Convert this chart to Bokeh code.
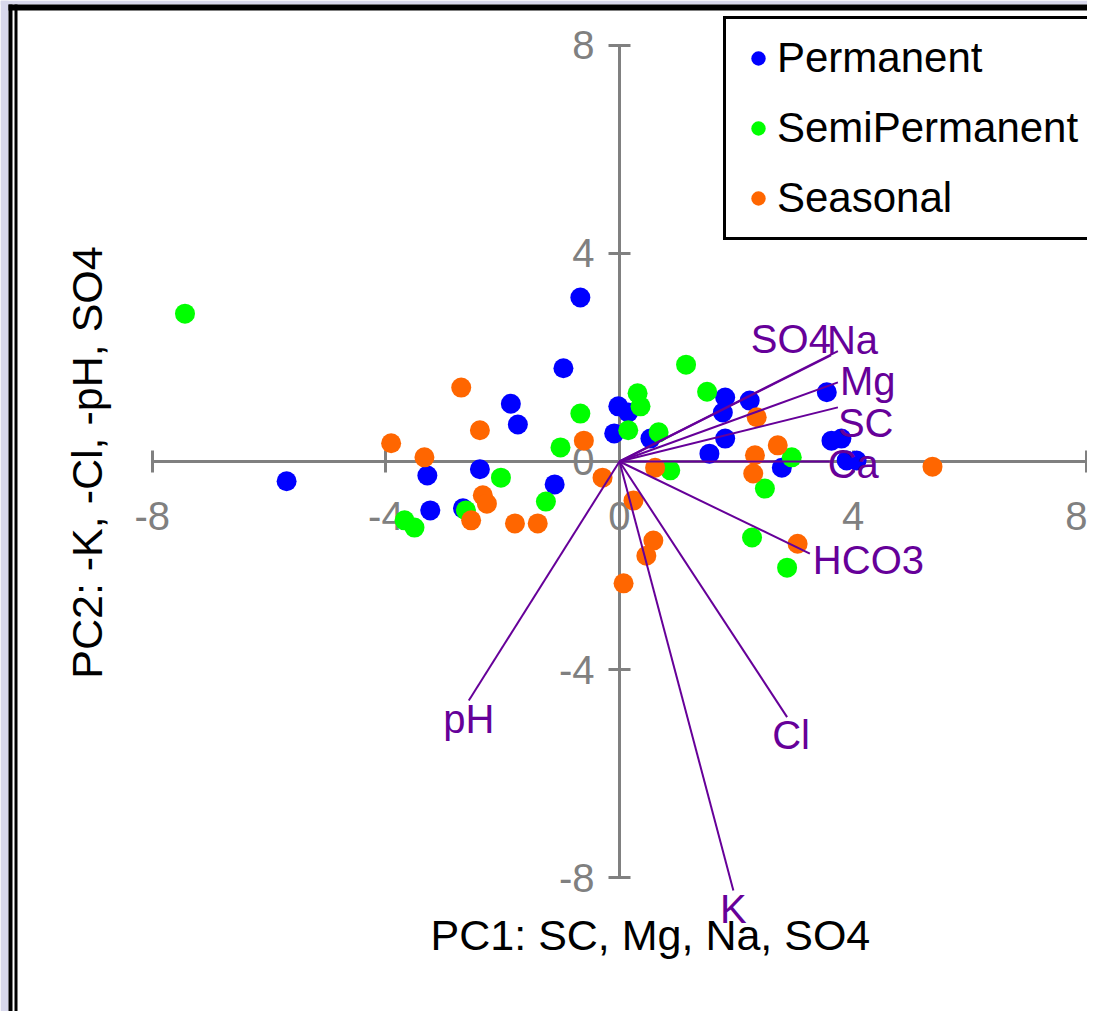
import math
from bokeh.plotting import figure
from bokeh.models import (ColumnDataSource, Range1d, LinearAxis, FixedTicker,
                          Label, BoxAnnotation, PrintfTickFormatter)
from bokeh.core.properties import value, field
from bokeh.embed import file_html
from bokeh.resources import INLINE

# ---- data (PCA scores) ----
perm_pc1 = [-5.70, -3.29, -3.24, -2.68, -2.39, -1.86, -1.74, -1.11, -0.96, -0.67,
            -0.02, 0.15, -0.09, 0.53, 1.81, 1.77, 2.23, 1.81, 1.54, 3.55,
            3.63, 3.80, 3.89, 4.06, 2.78]
perm_pc2 = [-0.38, -0.27, -0.94, -0.90, -0.15, 1.11, 0.71, -0.44, 1.79, 3.15,
            1.06, 0.94, 0.54, 0.44, 1.23, 0.94, 1.17, 0.44, 0.15, 1.33,
            0.40, 0.44, 0.02, 0.02, -0.12]

semi_pc1 = [-7.44, -3.68, -3.51, -2.63, -2.03, -1.26, -1.01, -0.67, 0.31, 0.36,
            0.15, 0.67, 0.87, 1.14, 1.50, 2.27, 2.95, 2.49, 2.87]
semi_pc2 = [2.84, -1.13, -1.27, -0.94, -0.31, -0.77, 0.27, 0.92, 1.31, 1.06,
            0.60, 0.56, -0.17, 1.86, 1.34, -1.46, 0.08, -0.52, -2.04]

seas_pc1 = [-3.91, -3.34, -2.71, -2.39, -2.34, -2.27, -2.54, -1.79, -1.40, -0.61,
            -0.29, 0.24, 0.58, 0.46, 0.07, 3.05, 0.61, 2.35, 2.32, 2.29,
            2.71, 5.36]
seas_pc2 = [0.35, 0.08, 1.42, 0.60, -0.65, -0.81, -1.13, -1.19, -1.19, 0.40,
            -0.31, -0.75, -1.52, -1.81, -2.34, -1.58, -0.12, 0.85, 0.12, -0.23,
            0.31, -0.10]

# ---- loading vectors ----
var_names = ["SO4", "Na", "Mg", "SC", "Ca", "HCO3", "Cl", "K", "pH"]
var_pc1 = [3.62, 3.74, 3.74, 3.74, 3.60, 3.26, 2.87, 1.95, -2.58]
var_pc2 = [2.04, 2.12, 1.52, 1.04, 0.00, -1.77, -4.91, -8.24, -4.59]

x_ticks = [-8, -4, 0, 4, 8]
y_ticks = [-8, -4, 0, 4, 8]

groups = ["Permanent", "SemiPermanent", "Seasonal"]
colors = ["#0000FF", "#00FF00", "#FF6600"]

PURPLE = "#660099"
GRAY = "#808080"
LAVENDER = "#D8D8EC"
FONT = "Liberation Sans"

W, H = 1087, 1011

p = figure(width=W, height=H,
           x_range=Range1d(-10.599, 8.014), y_range=Range1d(-10.565, 8.855),
           output_backend="svg", toolbar_location=None,
           x_axis_location=None, y_axis_location=None,
           min_border=0, outline_line_color=None,
           background_fill_color="white", border_fill_color="white")
p.grid.visible = False

# axes crossing at origin
xaxis = LinearAxis(fixed_location=0, bounds=(-8, 8), ticker=FixedTicker(ticks=x_ticks),
                   level="underlay")
yaxis = LinearAxis(fixed_location=0, bounds=(-8, 8), ticker=FixedTicker(ticks=y_ticks),
                   level="underlay")
for ax in (xaxis, yaxis):
    ax.formatter = PrintfTickFormatter(format="%d")
    ax.axis_line_color = GRAY
    ax.axis_line_width = 3
    ax.major_tick_line_color = GRAY
    ax.major_tick_line_width = 3
    ax.major_tick_in = 11
    ax.major_tick_out = 11
    ax.minor_tick_line_color = None
    ax.major_label_text_color = GRAY
    ax.major_label_text_font = FONT
    ax.major_label_text_font_size = "40px"
xaxis.major_label_standoff = 30
yaxis.major_label_standoff = 14
p.add_layout(xaxis, "below")
p.add_layout(yaxis, "left")

# scores
data = [(perm_pc1, perm_pc2), (semi_pc1, semi_pc2), (seas_pc1, seas_pc2)]
for (xs, ys), g, c in zip(data, groups, colors):
    p.scatter(xs, ys, size=20, marker="circle", fill_color=c, line_color=None,
              legend_label=g)

# loading vectors
vsrc = ColumnDataSource(dict(
    x0=[0.0] * len(var_names), y0=[0.0] * len(var_names),
    x1=var_pc1, y1=var_pc2, name=var_names,
    align=["right", "left", "left", "left", "left", "left", "center", "center", "center"],
    dx=[0, -11, 2, 0, -2, 3, 4, 0, 0],
    dy=[-16, -11, -1, 16, 3, 6, 18, 19, 19],
))
p.segment(x0="x0", y0="y0", x1="x1", y1="y1", source=vsrc,
          line_color=PURPLE, line_width=2)
p.text(x="x1", y="y1", text="name", source=vsrc,
       text_align=field("align"), text_baseline="alphabetic",
       x_offset="dx", y_offset="dy",
       text_color=PURPLE, text_font=value(FONT), text_font_size=value("40px"))

# axis titles
p.add_layout(Label(x=0.53, y=-9.10, text="PC1: SC, Mg, Na, SO4",
                   text_align="center", text_baseline="middle",
                   text_font=FONT, text_font_size="43px", text_color="black"))
p.add_layout(Label(x=-9.11, y=-0.02, text="PC2: -K, -Cl, -pH, SO4", angle=math.pi / 2,
                   text_align="center", text_baseline="middle",
                   text_font=FONT, text_font_size="43px", text_color="black"))

# window frame (lavender surround, black top band, double left line)
frame_boxes = [(0, 8, 0, H, LAVENDER), (0, W, 0, 4, LAVENDER),
               (8, W, 4, 10, "black"), (8, 12, 4, H, "black"), (14, 17, 4, H, "black")]
for l, r, t, b, c in frame_boxes:
    p.add_layout(BoxAnnotation(left=l, right=r, top=t, bottom=b,
                               left_units="canvas", right_units="canvas",
                               top_units="canvas", bottom_units="canvas",
                               fill_color=c, fill_alpha=1.0, line_color=None))

# legend
lg = p.legend[0]
lg.location = (723, 771)
lg.label_text_font = FONT
lg.label_text_font_size = "42px"
lg.label_text_color = "black"
lg.label_height = 50
lg.glyph_height = 50
lg.glyph_width = 36
lg.padding = 14
lg.spacing = 20
lg.label_standoff = 1
lg.margin = 0
lg.border_line_color = "black"
lg.border_line_width = 3
lg.border_line_alpha = 1.0
lg.background_fill_color = "white"
lg.background_fill_alpha = 1.0

open("out.html", "w").write(file_html(p, INLINE))
